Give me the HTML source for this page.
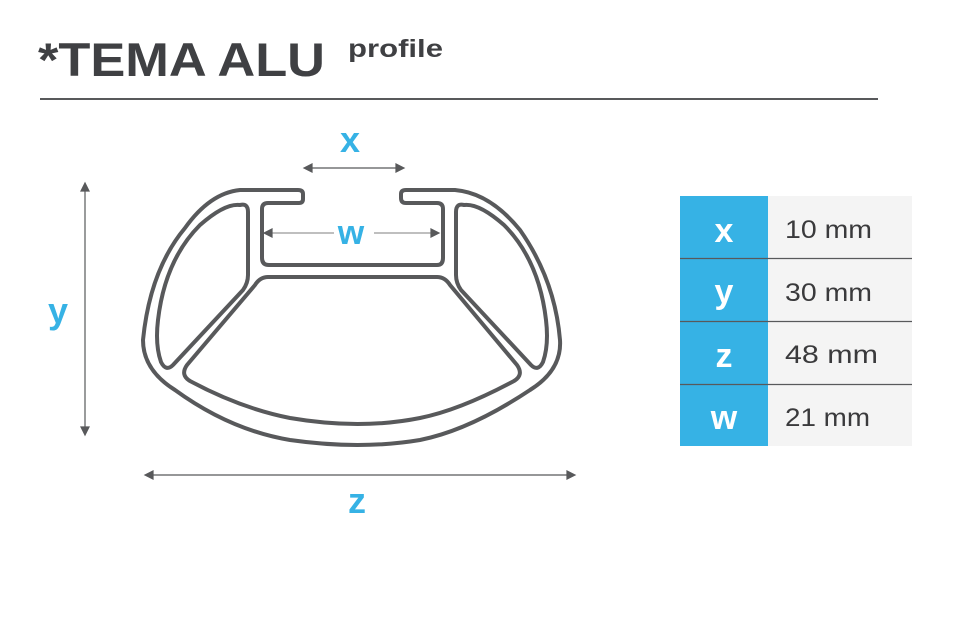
<!DOCTYPE html>
<html><head><style>
html,body{margin:0;padding:0;background:#fff;width:960px;height:627px;overflow:hidden;font-family:"Liberation Sans",sans-serif;}
</style></head><body>
<svg width="960" height="627" style="position:absolute;left:0;top:0">
<text x="38" y="76" font-family="Liberation Sans" font-weight="bold" font-size="47" fill="#3f4043" textLength="287" lengthAdjust="spacingAndGlyphs">*TEMA ALU</text>
<text x="348" y="57" font-family="Liberation Sans" font-weight="bold" font-size="25" fill="#3f4043" textLength="95" lengthAdjust="spacingAndGlyphs">profile</text>
<line x1="40" y1="99" x2="878" y2="99" stroke="#58595b" stroke-width="2"/>
<g fill="none" stroke="#58595b" stroke-width="4" stroke-linejoin="round">
<path d="M303,194 L303,199 Q303,203 299,203 L268,203 Q262,203 262,209 L262,258 Q262,265 269,265 L437,265 Q443,265 443,258 L443,209 Q443,203 437,203 L406,203 Q401,203 401,198 L401,194 Q401,190 406,190 L455,190 Q490,193 520,230 Q555,280 560,340 Q562,370 530,390 Q470,430 420,440 Q360,450 290,440 Q230,430 175,390 Q143,370 143,340 Q150,270 185,228 Q210,193 240,190 L298,190 Q303,190 303,194 Z"/>
<path d="M240,205 Q248,203 248,212 L248,275 Q248,283 243,290 L173,365 Q166,372 161,362 Q155,345 158,320 Q165,260 200,225 Q225,203 240,205 Z"/>
<path d="M464,205 Q456,203 456,212 L456,275 Q456,283 461,290 L531,365 Q538,372 543,362 Q549,345 546,320 Q539,260 504,225 Q479,203 464,205 Z"/>
<path d="M268,277 L437,277 Q445,277 450,285 L517,365 Q524,375 514,381 Q460,410 420,418 Q360,430 290,418 Q240,408 190,381 Q180,375 187,365 L255,285 Q260,277 268,277 Z"/>
</g>
<g stroke="#58595b" stroke-width="1.2" fill="#58595b">
<line x1="308" y1="168" x2="400" y2="168"/><path d="M304,168 L312,164 L312,172Z"/><path d="M404,168 L396,164 L396,172Z"/>
<line x1="85" y1="187" x2="85" y2="431"/><path d="M85,183 L81,191 L89,191Z"/><path d="M85,435 L81,427 L89,427Z"/>
<line x1="149" y1="475" x2="571" y2="475"/><path d="M145,475 L153,471 L153,479Z"/><path d="M575,475 L567,471 L567,479Z"/>
<line x1="268" y1="233" x2="334" y2="233" stroke="#999"/><line x1="374" y1="233" x2="436" y2="233" stroke="#999"/>
<path d="M264,233 L272,229 L272,237Z"/><path d="M439,233 L431,229 L431,237Z"/>
</g>
<g font-family="Liberation Sans" font-weight="bold" fill="#36b2e5" text-anchor="middle">
<text x="350" y="152" font-size="36">x</text>
<text x="58" y="323" font-size="36">y</text>
<text x="357" y="513" font-size="36">z</text>
<text x="351" y="244" font-size="34">w</text>
</g>
<rect x="768" y="196" width="144" height="250" fill="#f4f4f4"/>
<rect x="680" y="196" width="88" height="250" fill="#36b2e5"/>
<g stroke="#58595b" stroke-width="1.2"><line x1="680" y1="258.5" x2="912" y2="258.5"/><line x1="680" y1="321.5" x2="912" y2="321.5"/><line x1="680" y1="384.5" x2="912" y2="384.5"/></g>
<g font-family="Liberation Sans" font-weight="bold" fill="#fff" font-size="34" text-anchor="middle">
<text x="724" y="242">x</text><text x="724" y="303">y</text><text x="724" y="367">z</text><text x="724" y="429">w</text>
</g>
<g font-family="Liberation Sans" fill="#3a3a3c" font-size="25">
<text x="785" y="238" textLength="87" lengthAdjust="spacingAndGlyphs">10 mm</text>
<text x="785" y="301" textLength="87" lengthAdjust="spacingAndGlyphs">30 mm</text>
<text x="785" y="363" textLength="93" lengthAdjust="spacingAndGlyphs">48 mm</text>
<text x="785" y="426" textLength="85" lengthAdjust="spacingAndGlyphs">21 mm</text>
</g>
</svg>
</body></html>
